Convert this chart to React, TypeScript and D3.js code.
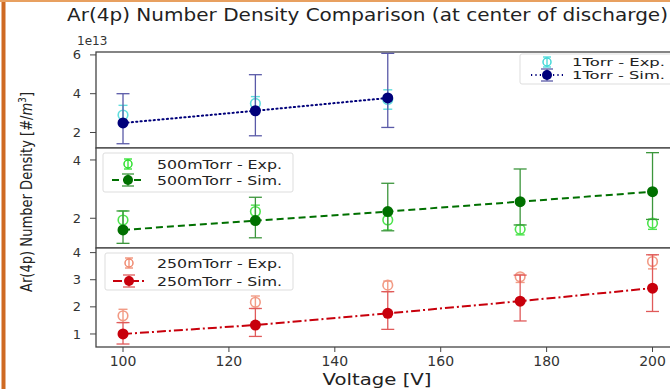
import React, { useEffect, useRef } from 'react';
import * as d3 from 'd3';

// voltages for the 500mTorr / 250mTorr runs, 1Torr only has three
const voltages = [100, 125, 150, 175, 200];
const torr1Voltages = [100, 125, 150];

const torr1Exp = [2.9, 3.5, 3.7];
const torr1ExpLow = [2.45, 3.2, 3.2];
const torr1ExpHigh = [3.4, 3.85, 4.2];
const torr1Sim = [2.49, 3.12, 3.78];
const torr1SimLow = [1.42, 1.83, 2.26];
const torr1SimHigh = [4.0, 4.98, 6.08];

const mTorr500Exp = [1.94, 2.23, 1.94, 1.62, 1.83];
const mTorr500ExpLow = [1.65, 2.0, 1.6, 1.43, 1.62];
const mTorr500ExpHigh = [2.25, 2.45, 2.2, 1.77, 1.97];
const mTorr500Sim = [1.6, 1.92, 2.23, 2.57, 2.91];
const mTorr500SimLow = [1.14, 1.33, 1.57, 1.77, 1.96];
const mTorr500SimHigh = [2.25, 2.72, 3.2, 3.69, 4.25];

const mTorr250Exp = [1.67, 2.17, 2.8, 3.11, 3.67];
const mTorr250ExpLow = [1.42, 1.94, 2.56, 2.9, 3.4];
const mTorr250ExpHigh = [1.91, 2.4, 2.95, 3.2, 3.92];
const mTorr250Sim = [1.0, 1.33, 1.76, 2.21, 2.69];
const mTorr250SimLow = [0.63, 0.91, 1.17, 1.48, 1.83];
const mTorr250SimHigh = [1.42, 1.94, 2.56, 3.17, 3.92];

const yTicksTorr1 = [2, 4, 6];
const yTicks500 = [2, 4];
const yTicks250 = [1, 2, 3, 4];
const xTicks = [100, 120, 140, 160, 180, 200];

const FONT = 'DejaVu Sans, sans-serif';

const App = () => {
  const svgRef = useRef<SVGSVGElement>(null);
  const width = 670;
  const height = 389;

  useEffect(() => {
    const svg = d3.select(svgRef.current);
    svg.selectAll('*').remove();

    const left = 96;
    const right = 679;
    const x = d3.scaleLinear().domain([94.9, 205]).range([left, right]);

    const pack = (xs, v, lo, hi) => xs.map((d, i) => ({ x: d, y: v[i], lo: lo[i], hi: hi[i] }));

    const panels = [
      {
        top: 52, bottom: 148, domain: [1.2, 6.15], ticks: yTicksTorr1,
        exp: pack(torr1Voltages, torr1Exp, torr1ExpLow, torr1ExpHigh),
        sim: pack(torr1Voltages, torr1Sim, torr1SimLow, torr1SimHigh),
        expColor: '#45d8d8', simColor: '#00007a', errColor: '#5a5aa8', lineDash: '1.2,3.2',
        expLabel: '1Torr - Exp.', simLabel: '1Torr - Sim.',
        legend: { x: 520, y: 54, w: 160, h: 30, mx: 547, tx: 572, r1: 62, r2: 75, tl: 93, fs: 11 },
      },
      {
        top: 148, bottom: 248, domain: [0.98, 4.41], ticks: yTicks500,
        exp: pack(voltages, mTorr500Exp, mTorr500ExpLow, mTorr500ExpHigh),
        sim: pack(voltages, mTorr500Sim, mTorr500SimLow, mTorr500SimHigh),
        expColor: '#2ee02e', simColor: '#007000', errColor: '#3c963c', lineDash: '7,4',
        expLabel: '500mTorr - Exp.', simLabel: '500mTorr - Sim.',
        legend: { x: 103, y: 153, w: 190, h: 39, mx: 128, tx: 157, r1: 164, r2: 180, tl: 125, fs: 13 },
      },
      {
        top: 248, bottom: 347, domain: [0.52, 4.17], ticks: yTicks250,
        exp: pack(voltages, mTorr250Exp, mTorr250ExpLow, mTorr250ExpHigh),
        sim: pack(voltages, mTorr250Sim, mTorr250SimLow, mTorr250SimHigh),
        expColor: '#f08a70', simColor: '#c8000c', errColor: '#e05a5a', lineDash: '9,3,2,3',
        expLabel: '250mTorr - Exp.', simLabel: '250mTorr - Sim.',
        legend: { x: 105, y: 253, w: 188, h: 37, mx: 129, tx: 157, r1: 263, r2: 281, tl: 125, fs: 13 },
      },
    ];

    const errBar = (g, px, y1, y2, color, cap, sw) => {
      g.append('line').attr('x1', px).attr('x2', px).attr('y1', y1).attr('y2', y2)
        .attr('stroke', color).attr('stroke-width', sw);
      [y1, y2].forEach(yy => {
        g.append('line').attr('x1', px - cap).attr('x2', px + cap).attr('y1', yy).attr('y2', yy)
          .attr('stroke', color).attr('stroke-width', sw);
      });
    };

    panels.forEach(p => {
      const y = d3.scaleLinear().domain(p.domain).range([p.bottom, p.top]);
      const g = svg.append('g');

      // frame
      g.append('rect').attr('x', left).attr('y', p.top).attr('width', right - left)
        .attr('height', p.bottom - p.top).attr('fill', 'white').attr('stroke', '#444').attr('stroke-width', 1.3);

      // y axis ticks
      p.ticks.forEach(t => {
        g.append('line').attr('x1', left - 6).attr('x2', left).attr('y1', y(t)).attr('y2', y(t))
          .attr('stroke', '#444');
        g.append('text').attr('x', left - 15).attr('y', y(t)).attr('dy', '0.35em')
          .attr('text-anchor', 'end').attr('font-family', FONT).attr('font-size', 13)
          .attr('fill', '#333').text(t);
      });

      // experiment: open circles with small error bars
      const eg = g.append('g').attr('opacity', 0.85);
      p.exp.forEach(d => errBar(eg, x(d.x), y(d.hi), y(d.lo), p.expColor, 4.5, 1.4));
      p.exp.forEach(d => {
        eg.append('circle').attr('cx', x(d.x)).attr('cy', y(d.y)).attr('r', 4.8)
          .attr('fill', 'none').attr('stroke', p.expColor).attr('stroke-width', 1.6);
      });

      // simulation
      p.sim.forEach(d => errBar(g, x(d.x), y(d.hi), y(d.lo), p.errColor, 6.5, 1.3));
      const line = d3.line<any>().x(d => x(d.x)).y(d => y(d.y));
      g.append('path').datum(p.sim).attr('d', line).attr('fill', 'none')
        .attr('stroke', p.simColor).attr('stroke-width', 2).attr('stroke-dasharray', p.lineDash)
        .attr('stroke-linecap', p.lineDash.startsWith('1.2') ? 'round' : 'butt');
      p.sim.forEach(d => {
        g.append('circle').attr('cx', x(d.x)).attr('cy', y(d.y)).attr('r', 5.5).attr('fill', p.simColor);
      });

      // legend
      const L = p.legend;
      const lg = g.append('g');
      lg.append('rect').attr('x', L.x).attr('y', L.y).attr('width', L.w).attr('height', L.h)
        .attr('rx', 2).attr('fill', 'white').attr('fill-opacity', 0.85).attr('stroke', '#ddd');
      errBar(lg, L.mx, L.r1 - 5, L.r1 + 5, p.expColor, 4, 1.3);
      lg.append('circle').attr('cx', L.mx).attr('cy', L.r1).attr('r', 4).attr('fill', 'none')
        .attr('stroke', p.expColor).attr('stroke-width', 1.5);
      errBar(lg, L.mx, L.r2 - 6, L.r2 + 6, p.errColor, 6, 1.3);
      lg.append('line').attr('x1', L.mx - 16).attr('x2', L.mx + 16).attr('y1', L.r2).attr('y2', L.r2)
        .attr('stroke', p.simColor).attr('stroke-width', 2).attr('stroke-dasharray', p.lineDash);
      lg.append('circle').attr('cx', L.mx).attr('cy', L.r2).attr('r', 5).attr('fill', p.simColor);
      [[p.expLabel, L.r1], [p.simLabel, L.r2]].forEach(([label, ry]) => {
        lg.append('text').attr('x', L.tx).attr('y', ry).attr('dy', '0.35em')
          .attr('font-family', FONT).attr('font-size', L.fs).attr('fill', '#222')
          .attr('textLength', L.tl).attr('lengthAdjust', 'spacingAndGlyphs').text(label);
      });
    });

    // x axis on bottom panel
    const xb = 347;
    xTicks.forEach(t => {
      svg.append('line').attr('x1', x(t)).attr('x2', x(t)).attr('y1', xb).attr('y2', xb + 5)
        .attr('stroke', '#444');
      svg.append('text').attr('x', x(t)).attr('y', xb + 9).attr('dy', '0.71em')
        .attr('text-anchor', 'middle').attr('font-family', FONT).attr('font-size', 14)
        .attr('fill', '#333').text(t);
    });

    svg.append('text').attr('x', 377).attr('y', 385).attr('text-anchor', 'middle')
      .attr('font-family', FONT).attr('font-size', 15).attr('fill', '#222')
      .attr('textLength', 109).attr('lengthAdjust', 'spacingAndGlyphs').text('Voltage [V]');

    // offset text
    svg.append('text').attr('x', 77).attr('y', 45).attr('font-family', FONT).attr('font-size', 12)
      .attr('fill', '#333').text('1e13');

    // title
    svg.append('text').attr('x', 67).attr('y', 21).attr('font-family', FONT).attr('font-size', 17)
      .attr('fill', '#222').attr('textLength', 601).attr('lengthAdjust', 'spacingAndGlyphs')
      .text('Ar(4p) Number Density Comparison (at center of discharge)');

    // y label
    const yl = svg.append('text').attr('transform', 'translate(32,192) rotate(-90)')
      .attr('text-anchor', 'middle').attr('font-family', 'Liberation Sans Narrow, DejaVu Sans Condensed, sans-serif')
      .attr('font-size', 15).attr('fill', '#222').attr('textLength', 200).attr('lengthAdjust', 'spacingAndGlyphs');
    yl.append('tspan').text('Ar(4p) Number Density [#/');
    yl.append('tspan').attr('font-style', 'italic').text('m');
    yl.append('tspan').attr('dy', -6).attr('font-size', 10).text('3');
    yl.append('tspan').attr('dy', 6).text(']');

    // orange frame of the slide
    svg.append('line').attr('x1', 3.5).attr('x2', 3.5).attr('y1', 0).attr('y2', height)
      .attr('stroke', '#cf6a22').attr('stroke-width', 4);
    svg.append('line').attr('x1', 0).attr('x2', width).attr('y1', 1).attr('y2', 1)
      .attr('stroke', '#e8a060').attr('stroke-width', 2);
  }, []);

  return (
    <svg ref={svgRef} width={width} height={height}
      style={{ position: 'absolute', left: 0, top: 0, background: 'white', display: 'block' }} />
  );
};

export default App;
